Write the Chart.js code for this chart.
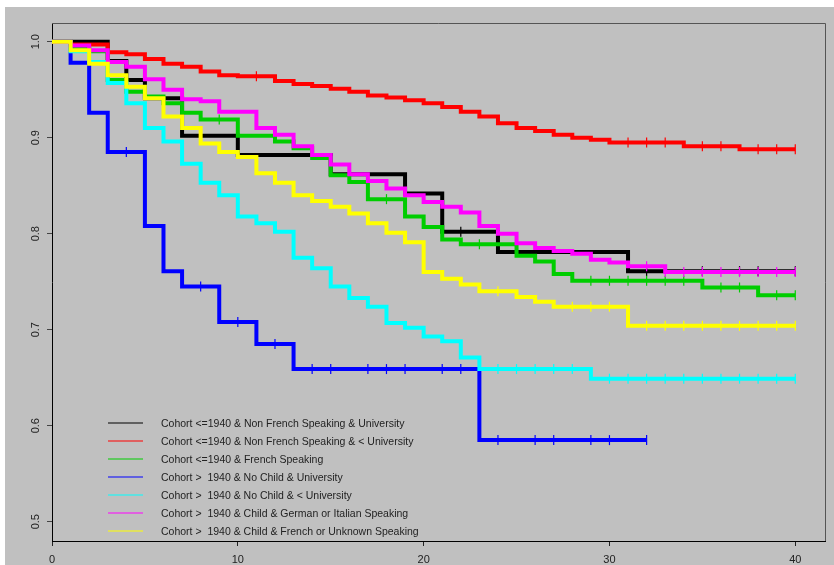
<!DOCTYPE html>
<html>
<head>
<meta charset="utf-8">
<script src="https://cdn.jsdelivr.net/npm/chart.js@4.4.1/dist/chart.umd.min.js"></script>
<style>
html, body { margin: 0; padding: 0; background: #fff; }
</style>
</head>
<body>
<canvas id="km-chart" width="834" height="565"></canvas>
<script>
// years since start, survival value on [t, t+1)
const years = [0,1,2,3,4,5,6,7,8,9,10,11,12,13,14,15,16,17,18,19,20,
  21,22,23,24,25,26,27,28,29,30,31,32,33,34,35,36,37,38,39,40];
const xTickValues = [0, 10, 20, 30, 40];
const yTickValues = [0.5, 0.6, 0.7, 0.8, 0.9, 1.0];

const seriesLabels = [
  'Cohort <=1940 & Non French Speaking & University',
  'Cohort <=1940 & Non French Speaking & < University',
  'Cohort <=1940 & French Speaking',
  'Cohort >  1940 & No Child & University',
  'Cohort >  1940 & No Child & < University',
  'Cohort >  1940 & Child & German or Italian Speaking',
  'Cohort >  1940 & Child & French or Unknown Speaking'
];

const survBlack = [1.000,1.000,1.000,0.980,0.960,0.941,0.941,0.902,0.902,0.902,
  0.882,0.882,0.882,0.882,0.882,0.862,0.862,0.862,0.862,0.842,
  0.842,0.802,0.802,0.802,0.781,0.781,0.781,0.781,0.781,0.781,
  0.781,0.761,0.761,0.761,0.761,0.761,0.761,0.761,0.761,0.761,0.761];
const survRed = [1.000,0.997,0.997,0.989,0.987,0.982,0.977,0.974,0.969,0.965,
  0.964,0.964,0.959,0.956,0.954,0.951,0.948,0.944,0.942,0.939,
  0.936,0.932,0.927,0.922,0.915,0.910,0.907,0.903,0.900,0.898,
  0.895,0.895,0.895,0.895,0.891,0.891,0.891,0.888,0.888,0.888,0.888];
const survGreen = [1.000,0.993,0.990,0.960,0.948,0.943,0.936,0.926,0.919,0.919,
  0.902,0.902,0.896,0.889,0.879,0.861,0.854,0.836,0.836,0.818,
  0.807,0.794,0.789,0.789,0.789,0.777,0.771,0.758,0.751,0.751,
  0.751,0.751,0.751,0.751,0.751,0.744,0.744,0.744,0.736,0.736,0.736];
const survBlue = [1.000,0.978,0.926,0.885,0.885,0.808,0.761,0.745,0.745,0.708,
  0.708,0.685,0.685,0.659,0.659,0.659,0.659,0.659,0.659,0.659,
  0.659,0.659,0.659,0.585,0.585,0.585,0.585,0.585,0.585,0.585,
  0.585,0.585,0.585,null,null,null,null,null,null,null,null];
const survCyan = [1.000,0.990,0.979,0.957,0.936,0.910,0.896,0.873,0.853,0.840,
  0.818,0.811,0.802,0.775,0.764,0.745,0.733,0.724,0.707,0.702,
  0.693,0.688,0.671,0.659,0.659,0.659,0.659,0.659,0.659,0.649,
  0.649,0.649,0.649,0.649,0.649,0.649,0.649,0.649,0.649,0.649,0.649];
const survMagenta = [1.000,0.996,0.991,0.979,0.974,0.961,0.950,0.940,0.938,0.927,
  0.927,0.910,0.903,0.891,0.882,0.872,0.862,0.855,0.847,0.840,
  0.833,0.828,0.822,0.808,0.800,0.790,0.785,0.782,0.779,0.773,
  0.770,0.766,0.766,0.760,0.760,0.760,0.760,0.760,0.760,0.760,0.760];
const survYellow = [1.000,0.991,0.977,0.965,0.953,0.941,0.922,0.910,0.894,0.885,
  0.880,0.863,0.853,0.840,0.834,0.828,0.821,0.811,0.801,0.791,
  0.760,0.753,0.747,0.740,0.740,0.734,0.729,0.724,0.724,0.724,
  0.724,0.704,0.704,0.704,0.704,0.704,0.704,0.704,0.704,0.704,0.704];

// censored times (the little + marks)
const censBlack = [8, 22, 32, 35, 37, 38, 40];
const censRed = [11, 31, 32, 33, 35, 36, 38, 39, 40];
const censGreen = [9, 18, 23, 29, 30, 31, 32, 33, 34, 36, 37, 39, 40];
const censBlue = [4, 8, 10, 12, 14, 15, 17, 18, 19, 21, 22, 24, 26, 27, 29, 30, 32];
const censCyan = [24, 25, 26, 27, 28, 30, 31, 32, 33, 34, 35, 36, 37, 38, 39, 40];
const censMagenta = [32, 33, 34, 35, 36, 37, 38, 39, 40];
const censYellow = [24, 28, 29, 30, 32, 33, 34, 35, 36, 37, 38, 39, 40];

const survAll = [survBlack, survRed, survGreen, survBlue, survCyan, survMagenta, survYellow];
const censAll = [censBlack, censRed, censGreen, censBlue, censCyan, censMagenta, censYellow];
const colors = ['#000000', '#ff0000', '#00cd00', '#0000ff', '#00ffff', '#ff00ff', '#ffff00'];

Chart.defaults.font.family = "'Liberation Sans', Arial, sans-serif";
Chart.defaults.font.size = 11;
Chart.defaults.color = '#222';

// build datasets: a stepped line + a points-only set of censor marks per group
const datasets = [];
survAll.forEach((vals, i) => {
  const n = survAll.length - 1;
  datasets.push({
    label: seriesLabels[i],
    data: years.map((t, k) => ({x: t, y: vals[k]})),
    borderColor: colors[i],
    backgroundColor: colors[i],
    borderWidth: 4,
    stepped: 'before',
    pointRadius: 0,
    fill: false,
    order: 2 * (n - i) + 1
  });
  datasets.push({
    label: seriesLabels[i] + ' (censored)',
    data: censAll[i].map(t => ({x: t, y: vals[years.indexOf(t)]})),
    showLine: false,
    pointStyle: 'line',
    rotation: 90,
    pointRadius: 5,
    pointBorderWidth: 1.2,
    pointBorderColor: colors[i],
    pointBackgroundColor: colors[i],
    order: 2 * (n - i)
  });
});

// grey panel with white margin
const panelBg = {
  id: 'panelBg',
  beforeDraw(chart) {
    const ctx = chart.ctx;
    ctx.save();
    ctx.fillStyle = '#ffffff';
    ctx.fillRect(0, 0, chart.width, chart.height);
    ctx.fillStyle = '#c0c0c0';
    ctx.fillRect(5, 7, chart.width - 5, chart.height - 7);
    ctx.restore();
  }
};

// box top/right, rotated y labels and the legend
const rDecor = {
  id: 'rDecor',
  afterDraw(chart) {
    const {ctx, chartArea: {left, right, top, bottom}} = chart;
    ctx.save();
    ctx.strokeStyle = '#555';
    ctx.lineWidth = 1;
    ctx.beginPath();
    ctx.moveTo(left, top + 0.5);
    ctx.lineTo(right + 0.5, top + 0.5);
    ctx.lineTo(right + 0.5, bottom);
    ctx.stroke();

    // y tick labels, turned like base R
    const yScale = chart.scales.y;
    ctx.fillStyle = '#222';
    ctx.font = "11px 'Liberation Sans', Arial, sans-serif";
    ctx.textAlign = 'center';
    ctx.textBaseline = 'middle';
    yTickValues.forEach(v => {
      ctx.save();
      ctx.translate(left - 16, yScale.getPixelForValue(v));
      ctx.rotate(-Math.PI / 2);
      ctx.fillText(v.toFixed(1), 0, 0);
      ctx.restore();
    });

    // legend
    const lines = chart.data.datasets.filter(d => d.showLine !== false);
    ctx.font = "10.5px 'Liberation Sans', Arial, sans-serif";
    let y = bottom - 118;
    lines.forEach(d => {
      ctx.strokeStyle = d.borderColor;
      ctx.lineWidth = 1.2;
      ctx.beginPath();
      ctx.moveTo(left + 56, y);
      ctx.lineTo(left + 91, y);
      ctx.stroke();
      ctx.fillStyle = '#222';
      ctx.textAlign = 'left';
      ctx.fillText(d.label, left + 109, y + 1);
      y += 18;
    });
    ctx.restore();
  }
};

const ctx = document.getElementById('km-chart');

const config = {
  type: 'line',
  data: { datasets },
  options: {
    responsive: false,
    animation: false,
    devicePixelRatio: 1,
    layout: {
      padding: { left: 0, top: 23, right: 9, bottom: 0 }
    },
    plugins: {
      legend: { display: false },
      tooltip: { enabled: false }
    },
    scales: {
      x: {
        type: 'linear',
        min: 0,
        max: 41.6,
        afterBuildTicks: s => { s.ticks = xTickValues.map(v => ({value: v})); },
        afterFit: s => { s.height = 24; },
        grid: { drawOnChartArea: false, drawTicks: true, tickLength: 5, color: '#222' },
        border: { display: true, color: '#000', width: 1 },
        ticks: { padding: 7, color: '#222', maxRotation: 0 }
      },
      y: {
        type: 'linear',
        min: 0.4799,
        max: 1.0195,
        afterBuildTicks: s => { s.ticks = yTickValues.map(v => ({value: v})); },
        afterFit: s => { s.width = 52; },
        grid: { drawOnChartArea: false, drawTicks: true, tickLength: 5, color: '#444' },
        border: { display: true, color: '#000', width: 1 },
        ticks: { display: false }
      }
    }
  },
  plugins: [panelBg, rDecor]
};

const kmChart = new Chart(ctx, config);
</script>
</body>
</html>
